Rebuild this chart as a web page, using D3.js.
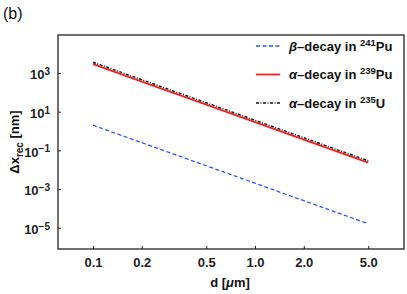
<!DOCTYPE html>
<html>
<head>
<meta charset="utf-8">
<script src="https://cdn.jsdelivr.net/npm/d3@7"></script>
<style>
  body { margin: 0; background: #fff; }
  svg { display: block; font-family: 'Liberation Sans', Arial, sans-serif; }
  .tick text { font-size: 13px; font-weight: bold; fill: #222; }
</style>
</head>
<body>
<svg id="chart" width="407" height="294"></svg>
<script>
// values
var dValues = [0.1, 0.2, 0.5, 1.0, 2.0, 5.0];
var betaPu241 = [2.0, 0.25, 0.016, 0.002, 2.5e-4, 1.6e-5];
var alphaPu239 = [2900, 360, 23, 2.9, 0.36, 0.023];
var alphaU235 = [3600, 450, 29, 3.6, 0.45, 0.029];

var xTicks = [0.1, 0.2, 0.5, 1.0, 2.0, 5.0];
var yTicks = [3, 1, -1, -3, -5];   // exponents

var seriesNames = ["\u03b2", "\u03b1", "\u03b1"];
var seriesIso = [["241", "Pu"], ["239", "Pu"], ["235", "U"]];

var svg = d3.select("#chart");
var margin = { top: 35, right: 3, bottom: 45, left: 58 };
var W = 407 - margin.left - margin.right,
    H = 294 - margin.top - margin.bottom;

var g = svg.append("g").attr("transform", "translate(" + margin.left + "," + margin.top + ")");

var x = d3.scaleLog().domain([0.0608, 8.31]).range([0, W]);
var y = d3.scaleLog().domain([Math.pow(10, -6.1), Math.pow(10, 4.965)]).range([H, 0]);

// x axis, ticks pointing inward
g.append("g")
  .attr("transform", "translate(0," + H + ")")
  .call(d3.axisBottom(x).tickValues(xTicks).tickSizeInner(-3).tickSizeOuter(0).tickPadding(9)
        .tickFormat(d3.format(".1f")))
  .call(a => a.select(".domain").remove())
  .call(a => a.selectAll("line").attr("stroke", "#222"));

// y axis
var yAxis = g.append("g")
  .call(d3.axisLeft(y).tickValues(yTicks.map(e => Math.pow(10, e))).tickSizeInner(-3).tickSizeOuter(0).tickPadding(8)
        .tickFormat(""))
  .call(a => a.select(".domain").remove())
  .call(a => a.selectAll("line").attr("stroke", "#222"));

yAxis.selectAll(".tick text").each(function (d) {
  var t = d3.select(this);
  var e = Math.round(Math.log10(d));
  var sup = e < 0 ? "\u2212" + Math.abs(e) : String(e);
  t.attr("dy", "0.45em");
  t.append("tspan").text("10");
  t.append("tspan").attr("dy", "-0.45em").attr("font-size", "10px").text(sup);
});

// frame
g.append("rect").attr("width", W).attr("height", H)
  .attr("fill", "none").attr("stroke", "#222").attr("stroke-width", 1.3);

// lines
var styles = [
  { data: betaPu241, color: "#3355ee", width: 1.3, dash: "4,2.5" },
  { data: alphaPu239, color: "#ee2222", width: 1.8, dash: null },
  { data: alphaU235, color: "#111", width: 1.4, dash: "3,1.5,1,1.5" }
];

var line = d3.line().x(d => x(d[0])).y(d => y(d[1]));

styles.forEach(function (s) {
  g.append("path")
    .datum(dValues.map((d, i) => [d, s.data[i]]))
    .attr("d", line)
    .attr("fill", "none")
    .attr("stroke", s.color)
    .attr("stroke-width", s.width)
    .attr("stroke-dasharray", s.dash);
});

// legend
var legend = g.append("g").attr("transform", "translate(198,11)");
styles.forEach(function (s, i) {
  var row = legend.append("g").attr("transform", "translate(0," + (i * 28.5) + ")");
  row.append("line").attr("x1", 0).attr("x2", 24).attr("y1", 0).attr("y2", 0)
    .attr("stroke", s.color).attr("stroke-width", s.width).attr("stroke-dasharray", s.dash);
  var t = row.append("text").attr("x", 33).attr("y", 4.5)
    .attr("font-size", "13px").attr("font-weight", "bold").attr("fill", "#111");
  t.append("tspan").attr("font-style", "italic").text(seriesNames[i]);
  t.append("tspan").text("\u2013decay in ");
  t.append("tspan").attr("font-size", "9.5px").attr("dy", "-5").text(seriesIso[i][0]);
  t.append("tspan").attr("dy", "5").text(seriesIso[i][1]);
});

// axis titles
var xl = svg.append("text").attr("x", 230).attr("y", 287).attr("text-anchor", "middle")
  .attr("font-size", "13px").attr("font-weight", "bold").attr("fill", "#111");
xl.append("tspan").text("d [");
xl.append("tspan").attr("font-style", "italic").text("\u03bc");
xl.append("tspan").text("m]");

var yl = svg.append("text").attr("transform", "translate(19,142) rotate(-90)")
  .attr("text-anchor", "middle").attr("font-size", "13px").attr("font-weight", "bold").attr("fill", "#111");
yl.append("tspan").text("\u0394x");
yl.append("tspan").attr("font-size", "10px").attr("dy", "4").text("rec");
yl.append("tspan").attr("dy", "-4").text(" [nm]");

svg.append("text").attr("x", 3).attr("y", 19).attr("font-size", "16px").attr("fill", "#111").text("(b)");
</script>
</body>
</html>
